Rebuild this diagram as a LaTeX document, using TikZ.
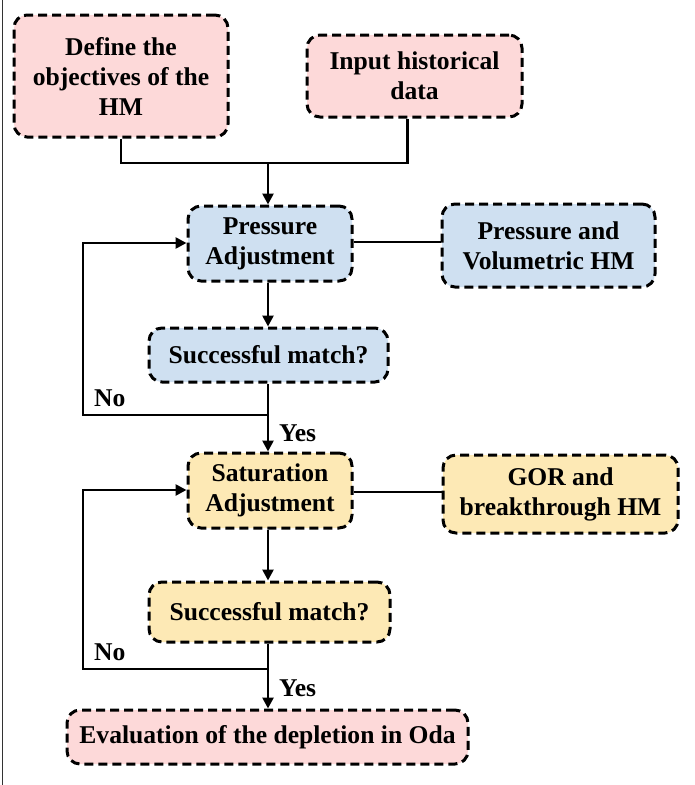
\documentclass[tikz,border=0pt]{standalone}
\usepackage{fontspec}
\setmainfont{Liberation Serif}
\usetikzlibrary{arrows.meta}
\definecolor{pinkfill}{HTML}{FDD9D9}
\definecolor{bluefill}{HTML}{CFE0F1}
\definecolor{yellowfill}{HTML}{FDE9B5}
\begin{document}
\begin{tikzpicture}[x=1pt,y=-1pt,
  stepbox/.style={draw=black, line width=3pt, dash pattern=on 9pt off 5pt,
    rounded corners=13pt, align=center, inner sep=0pt,
    font=\fontsize{25.6}{30}\selectfont\bfseries},
  link/.style={line width=2.6pt, draw=black},
  arrow/.style={link, -{Triangle[length=11pt,width=11pt]}},
  tag/.style={font=\fontsize{25.6}{30}\selectfont\bfseries, inner sep=0pt}]
  \useasboundingbox (0,0) rectangle (694,785);
  % page edge
  \draw[line width=1.2pt, black!80] (2.5,0) -- (2.5,785);

  % boxes
  \node[stepbox, fill=pinkfill, minimum width=214pt, minimum height=122pt] (def) at (121,76)
    {Define the\\objectives of the\\HM};
  \node[stepbox, fill=pinkfill, minimum width=215pt, minimum height=82pt] (inp) at (414.5,76)
    {Input historical\\data};
  \node[stepbox, fill=bluefill, minimum width=164pt, minimum height=75pt] (pa) at (270,243.5)
    {Pressure\\Adjustment};
  \node[stepbox, fill=bluefill, minimum width=213pt, minimum height=83pt] (pv) at (548.5,245.5)
    {Pressure and\\Volumetric HM};
  \node[stepbox, fill=bluefill, minimum width=239pt, minimum height=54pt] (sm1) at (268.5,355)
    {Successful match?};
  \node[stepbox, fill=yellowfill, minimum width=164pt, minimum height=75pt] (sa) at (270,490.5)
    {Saturation\\Adjustment};
  \node[stepbox, fill=yellowfill, minimum width=235pt, minimum height=78pt] (gor) at (560.5,494)
    {GOR and\\breakthrough HM};
  \node[stepbox, fill=yellowfill, minimum width=241pt, minimum height=60pt] (sm2) at (269.5,612)
    {Successful match?};
  \node[stepbox, fill=pinkfill, minimum width=401pt, minimum height=54pt] (ev) at (267.5,737)
    {Evaluation of the depletion in Oda};

  % junction points
  \coordinate (top) at (268,163);
  \coordinate (no1) at (268,415);
  \coordinate (no2) at (268,669);

  % inputs merge into the first adjustment
  \draw[link] (def.south) |- (top);
  \draw[link] ([xshift=-7pt]inp.south) |- (top);
  \draw[arrow] (top) -- (top |- pa.north);

  % pressure stage
  \draw[link] (pa.east |- 0,242) -- (pv.west |- 0,242);
  \draw[arrow] (pa.south -| top) -- (sm1.north -| top);
  \draw[link] (sm1.south -| top) -- (no1);
  \draw[arrow] (no1) -- (sa.north -| top);
  \draw[arrow] (no1) -| (83,243) -- (pa.west |- 0,243);
  \node[tag, anchor=west] (n1) at (94,398) {No};
  \node[tag, anchor=west] (y1) at (279,433) {Yes};

  % saturation stage
  \draw[link] (sa.east |- 0,492) -- (gor.west |- 0,492);
  \draw[arrow] (sa.south -| top) -- (sm2.north -| top);
  \draw[link] (sm2.south -| top) -- (no2);
  \draw[arrow] (no2) -- (ev.north -| top);
  \draw[arrow] (no2) -| (83,490) -- (sa.west |- 0,490);
  \node[tag, anchor=west] (n2) at (94,652) {No};
  \node[tag, anchor=west] (y2) at (279,688) {Yes};
\end{tikzpicture}
\end{document}
